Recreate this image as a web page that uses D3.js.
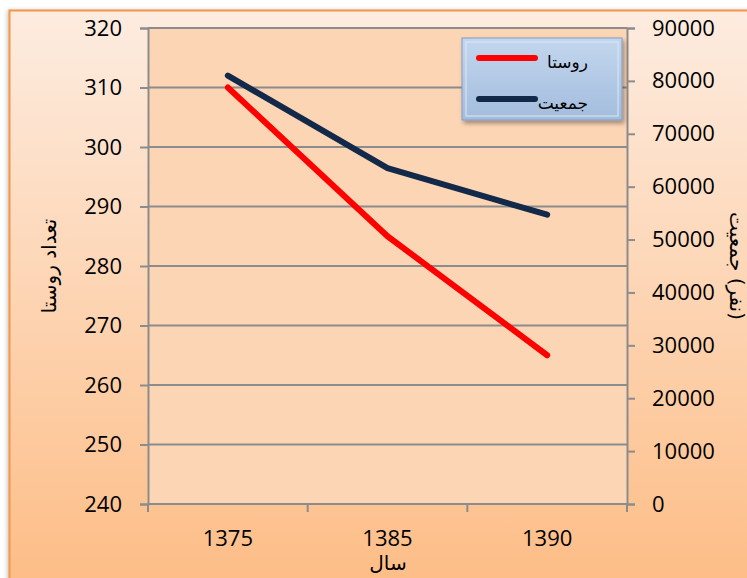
<!DOCTYPE html>
<html>
<head>
<meta charset="utf-8">
<script src="https://cdn.jsdelivr.net/npm/d3@7"></script>
<style>
  html, body { margin: 0; padding: 0; background: #ffffff; }
  svg { display: block; }
</style>
</head>
<body>
<svg id="chart" width="747" height="578"></svg>
<script>
// Years (categories)
const years = ["1375", "1385", "1390"];
// Number of villages (left axis)
const villages = [310, 285, 265];
// Population (right axis)
const population = [81000, 63500, 54700];
// Axis ticks
const leftTicks = [240, 250, 260, 270, 280, 290, 300, 310, 320];
const rightTicks = [0, 10000, 20000, 30000, 40000, 50000, 60000, 70000, 80000, 90000];
// Series names
const seriesNames = ["روستا", "جمعیت"];

const svg = d3.select("#chart");
const W = 747, H = 578;
const plot = { left: 148, right: 627, top: 28, bottom: 504 };
const latin = "'Open Sans', 'Noto Sans', sans-serif";
const arabic = "'DejaVu Sans', sans-serif";

const defs = svg.append("defs");
const bg = defs.append("linearGradient").attr("id", "bgGrad")
  .attr("x1", 0).attr("y1", 0).attr("x2", 0).attr("y2", 1);
bg.append("stop").attr("offset", "0%").attr("stop-color", "#fdece0");
bg.append("stop").attr("offset", "100%").attr("stop-color", "#fdbd86");

const lg = defs.append("linearGradient").attr("id", "legGrad")
  .attr("x1", 0).attr("y1", 0).attr("x2", 0).attr("y2", 1);
lg.append("stop").attr("offset", "0%").attr("stop-color", "#c3d6ee");
lg.append("stop").attr("offset", "100%").attr("stop-color", "#a3bddd");

const shadow = defs.append("filter").attr("id", "shadow")
  .attr("x", "-10%").attr("y", "-10%").attr("width", "130%").attr("height", "140%");
shadow.append("feDropShadow").attr("dx", 2).attr("dy", 3).attr("stdDeviation", 2)
  .attr("flood-color", "#000").attr("flood-opacity", 0.35);

const outerShadow = defs.append("filter").attr("id", "outerShadow")
  .attr("x", "-5%").attr("y", "-5%").attr("width", "110%").attr("height", "110%");
outerShadow.append("feDropShadow").attr("dx", -3).attr("dy", 0).attr("stdDeviation", 2)
  .attr("flood-color", "#000").attr("flood-opacity", 0.2);

// Chart background
svg.append("rect").attr("x", 10).attr("y", 10).attr("width", W).attr("height", H)
  .attr("fill", "url(#bgGrad)").attr("filter", "url(#outerShadow)");
svg.append("path")
  .attr("d", `M${W + 5},10.5 H9.5 V${H + 5}`)
  .attr("fill", "none").attr("stroke", "#f79646").attr("stroke-width", 2);

// Plot area
svg.append("rect").attr("x", plot.left).attr("y", plot.top)
  .attr("width", plot.right - plot.left).attr("height", plot.bottom - plot.top)
  .attr("fill", "#fcd5b4");

// Scales
const x = d3.scaleBand().domain(years).range([plot.left, plot.right]);
const yL = d3.scaleLinear().domain([240, 320]).range([plot.bottom, plot.top]);
const yR = d3.scaleLinear().domain([0, 90000]).range([plot.bottom, plot.top]);

const gridColor = "#8c8c8c";

// Horizontal gridlines
svg.append("g").selectAll("line").data(leftTicks).join("line")
  .attr("x1", plot.left).attr("x2", plot.right)
  .attr("y1", d => yL(d)).attr("y2", d => yL(d))
  .attr("stroke", gridColor).attr("stroke-width", 2);

// Left axis
const leftAxis = svg.append("g").attr("transform", `translate(${plot.left},0)`)
  .call(d3.axisLeft(yL).tickValues(leftTicks).tickSize(8).tickPadding(18));
// Right axis
const rightAxis = svg.append("g").attr("transform", `translate(${plot.right},0)`)
  .call(d3.axisRight(yR).tickValues(rightTicks).tickSize(8).tickPadding(17).tickFormat(d3.format("d")));
// Bottom axis: ticks at category boundaries, labels at centers
const xAxis = svg.append("g").attr("transform", `translate(0,${plot.bottom})`)
  .call(d3.axisBottom(x).tickSize(0).tickPadding(26));
const boundaries = [plot.left, ...years.slice(1).map(d => x(d)), plot.right];
svg.append("g").selectAll("line").data(boundaries).join("line")
  .attr("x1", d => d).attr("x2", d => d)
  .attr("y1", plot.bottom).attr("y2", plot.bottom + 8)
  .attr("stroke", gridColor).attr("stroke-width", 2);

[leftAxis, rightAxis, xAxis].forEach(g => {
  g.select(".domain").attr("stroke", gridColor).attr("stroke-width", 2);
  g.selectAll(".tick line").attr("stroke", gridColor).attr("stroke-width", 2);
  g.selectAll(".tick text").attr("fill", "#000").style("font-family", latin).style("font-size", "22px");
});
xAxis.select(".domain").attr("d", `M${plot.left},0H${plot.right}`);

// Lines
const cx = d => x(d) + x.bandwidth() / 2;
const lineL = d3.line().x((d, i) => cx(years[i])).y(d => yL(d));
const lineR = d3.line().x((d, i) => cx(years[i])).y(d => yR(d));

svg.append("path").datum(population).attr("d", lineR)
  .attr("fill", "none").attr("stroke", "#12294a").attr("stroke-width", 6)
  .attr("stroke-linecap", "round").attr("stroke-linejoin", "round");
svg.append("path").datum(villages).attr("d", lineL)
  .attr("fill", "none").attr("stroke", "#ff0000").attr("stroke-width", 6)
  .attr("stroke-linecap", "round").attr("stroke-linejoin", "round");

// Axis titles (right-to-left text)
svg.append("text").attr("transform", "translate(50,266) rotate(-90)")
  .attr("text-anchor", "middle").attr("dominant-baseline", "middle")
  .attr("direction", "rtl")
  .style("font-family", arabic).style("font-size", "20px").attr("fill", "#000")
  .text("تعداد روستا");
svg.append("text").attr("transform", "translate(735,266) rotate(90)")
  .attr("text-anchor", "middle").attr("dominant-baseline", "middle")
  .attr("direction", "rtl")
  .style("font-family", arabic).style("font-size", "20px").attr("fill", "#000")
  .text("(نفر) جمعیت");
svg.append("text").attr("x", 388).attr("y", 570)
  .attr("text-anchor", "middle")
  .style("font-family", arabic).style("font-size", "20px").attr("fill", "#000")
  .text("سال");

// Legend
const leg = svg.append("g").attr("transform", "translate(462,38)");
leg.append("rect").attr("width", 160).attr("height", 82)
  .attr("fill", "url(#legGrad)").attr("stroke", "#7f9dc4").attr("stroke-width", 1)
  .attr("filter", "url(#shadow)");
leg.append("rect").attr("x", 4).attr("y", 4).attr("width", 152).attr("height", 74)
  .attr("fill", "none").attr("stroke", "#dbe6f4").attr("stroke-width", 1.5).attr("opacity", 0.7);
const legColors = ["#ff0000", "#12294a"];
seriesNames.forEach((name, i) => {
  const yy = 20 + i * 41;
  leg.append("line").attr("x1", 17).attr("x2", 73).attr("y1", yy).attr("y2", yy)
    .attr("stroke", legColors[i]).attr("stroke-width", 6).attr("stroke-linecap", "round");
  leg.append("text").attr("x", 126).attr("y", yy + 5)
    .attr("text-anchor", "start").attr("direction", "rtl").attr("dominant-baseline", "middle")
    .style("font-family", arabic).style("font-size", "17px").attr("fill", "#000")
    .text(name);
});
</script>
</body>
</html>
